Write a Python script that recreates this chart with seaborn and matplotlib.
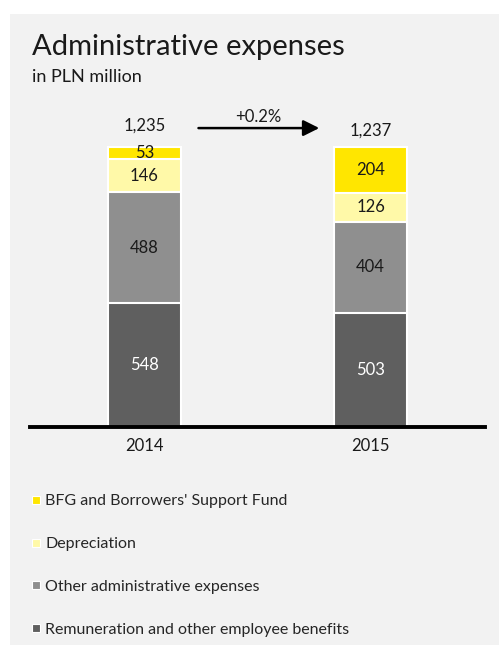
import numpy as np
import pandas as pd
import matplotlib
matplotlib.use("Agg")
import matplotlib.pyplot as plt
from matplotlib.lines import Line2D
from matplotlib.patches import Rectangle
import seaborn as sns

years = ["2014", "2015"]
remuneration = [548, 503]
other_admin = [488, 404]
depreciation = [146, 126]
bfg = [53, 204]
totals = ["1,235", "1,237"]
change_label = "+0.2%"

series_names = ["Remuneration and other employee benefits", "Other administrative expenses",
                "Depreciation", "BFG and Borrowers' Support Fund"]
series_vals = [remuneration, other_admin, depreciation, bfg]
colors = ["#5f5f5f", "#8f8f8f", "#fff9a8", "#ffe600"]
text_colors = ["white", "#1a1a1a", "#1a1a1a", "#1a1a1a"]

sns.set_style("white")
plt.rcParams["font.family"] = ["Lato", "DejaVu Sans"]

fig = plt.figure(figsize=(4.99, 6.45), dpi=100)
fig.patch.set_facecolor("white")
fig.patches.append(Rectangle((10 / 499, 0), 1, 1 - 14 / 645, transform=fig.transFigure,
                             facecolor="#f2f2f2", edgecolor="none", zorder=-5))

ax = fig.add_axes([30 / 499, 1 - 427 / 645, (485 - 30) / 499, (427 - 100) / 645])
ax.set_facecolor("none")
ax.set_zorder(2)

df = pd.DataFrame({"year": years})
cum = np.cumsum(np.array(series_vals), axis=0)
# draw cumulative bars from the top segment down so they overlap into a stack
for i in range(len(series_vals) - 1, -1, -1):
    df["v"] = cum[i]
    sns.barplot(data=df, x="year", y="v", color=colors[i], saturation=1, width=0.32,
                edgecolor="white", linewidth=1.5, ax=ax, zorder=2)

for j in range(len(years)):
    for i, vals in enumerate(series_vals):
        mid = cum[i][j] - vals[j] / 2
        ax.text(j, mid, str(vals[j]), ha="center", va="center", fontsize=12,
                color=text_colors[i], zorder=5)

ax.text(0, 1333, totals[0], ha="center", va="center", fontsize=12, color="#1a1a1a")
ax.text(1, 1307, totals[1], ha="center", va="center", fontsize=12, color="#1a1a1a")
ax.annotate("", xy=(0.785, 1320), xytext=(0.227, 1320),
            arrowprops=dict(arrowstyle="-|>", color="black", lw=1.8, mutation_scale=24))
ax.text(0.505, 1368, change_label, ha="center", va="center", fontsize=12, color="#1a1a1a")

ax.set_xlim(-0.505, 1.505)
ax.set_ylim(0, 1444)
ax.set_xlabel("")
ax.set_ylabel("")
ax.set_yticks([])
ax.tick_params(axis="x", length=0, labelsize=12, pad=8, labelcolor="#1a1a1a")
for s in ["top", "left", "right"]:
    ax.spines[s].set_visible(False)
ax.spines["bottom"].set_linewidth(2.8)
ax.spines["bottom"].set_color("black")
ax.spines["bottom"].set_zorder(6)

fig.text(32 / 499, 1 - 47 / 645, "Administrative expenses", fontsize=21, va="center", color="#1a1a1a")
fig.text(32 / 499, 1 - 77 / 645, "in PLN million", fontsize=13, va="center", color="#1a1a1a")

handles = [Line2D([], [], marker="s", linestyle="none", markersize=6, color=colors[i],
                  markeredgecolor="white", markeredgewidth=0.8) for i in range(3, -1, -1)]
labels = [series_names[i] for i in range(3, -1, -1)]
fig.legend(handles, labels, loc="upper left", bbox_to_anchor=(31 / 499, 1 - 494 / 645),
           frameon=False, fontsize=11.5, handlelength=0.6, handletextpad=0.3,
           labelspacing=1.8, borderaxespad=0, borderpad=0)

fig.savefig("out.png", dpi=100, facecolor=fig.get_facecolor())
